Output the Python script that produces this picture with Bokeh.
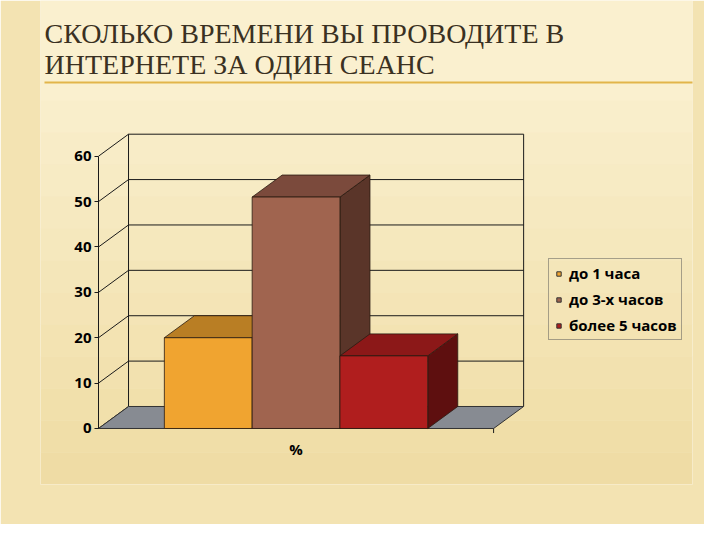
from bokeh.plotting import figure
from bokeh.models import (Range1d, FixedTicker, LinearAxis, Label,
                          Legend, LegendItem, BoxAnnotation)
from bokeh.embed import file_html
from bokeh.resources import INLINE

# ---- data ----
title_lines = ["СКОЛЬКО ВРЕМЕНИ ВЫ ПРОВОДИТЕ В", "ИНТЕРНЕТЕ ЗА ОДИН СЕАНС"]
categories = ["до 1 часа", "до 3-х часов", "более 5 часов"]
values = [20, 51, 16]
y_ticks = [0, 10, 20, 30, 40, 50, 60]
x_label = "%"

# ---- style ----
BG_TOP = "#FAF0CF"
BG_TINT = "#E8CF88"
BORDER = "#F3E3B2"
front_colors = ["#F0A430", "#A0644F", "#B01E1E"]
top_colors = ["#B97E24", "#7B4A3C", "#8C1818"]
side_colors = ["#7A5016", "#5A3529", "#5E0F0F"]
FLOOR = "#878B92"
EDGE = "#2a1a10"

x_centers = [1.25, 2.25, 3.25]   # bar slots along the floor
bar_w = 1.0
floor_len = 4.5
DX, DY = 0.342, 4.85             # 3-D depth offset (x units, y units)
y_top = 60

W, H = 704, 524
ML, MB = 40, 40                  # side panels
FH = H - MB                      # frame height in px

p = figure(width=W, height=H, output_backend="svg", toolbar_location=None,
           x_range=Range1d(-0.6606, 6.7654), y_range=Range1d(-12.34, 94.31),
           min_border_left=ML, min_border_right=12, min_border_top=0,
           min_border_bottom=MB, x_axis_type=None, y_axis_type=None)
p.background_fill_color = BG_TOP
p.border_fill_color = BORDER
p.outline_line_color = None
p.grid.visible = False

# soft vertical gradient of the slide background
n_bands = 12
for k in range(n_bands):
    top_px = FH - 100 - k * 32
    p.add_layout(BoxAnnotation(bottom=max(top_px - 32, 0), top=top_px,
                               bottom_units="screen", top_units="screen",
                               fill_color=BG_TINT, fill_alpha=0.05 * (k + 1),
                               line_color=None, level="underlay"))

# back wall lines and grid
gx0, gx1, gy0, gy1 = [], [], [], []
for v in y_ticks[1:]:
    gx0.append(DX); gx1.append(floor_len + DX); gy0.append(v + DY); gy1.append(v + DY)
p.segment(gx0, gy0, gx1, gy1, line_color="#1a1a1a", line_width=1)
p.segment([DX, floor_len + DX], [DY, DY], [DX, floor_len + DX], [y_top + DY, y_top + DY],
          line_color="#1a1a1a", line_width=1)
# side wall diagonals
p.segment([0] * len(y_ticks), y_ticks, [DX] * len(y_ticks), [v + DY for v in y_ticks],
          line_color="#1a1a1a", line_width=1)

# floor
p.patch([0, floor_len, floor_len + DX, DX], [0, 0, DY, DY],
        fill_color=FLOOR, line_color="#333333", line_width=1)
p.segment([floor_len], [0], [floor_len], [-1], line_color="#1a1a1a")

# bars: side, top, then front (left to right)
for i, (xc, v) in enumerate(zip(x_centers, values)):
    l, r = xc - bar_w / 2, xc + bar_w / 2
    p.patch([r, r + DX, r + DX, r], [0, DY, v + DY, v],
            fill_color=side_colors[i], line_color=EDGE, line_width=0.8)
    p.patch([l, r, r + DX, l + DX], [v, v, v + DY, v + DY],
            fill_color=top_colors[i], line_color=EDGE, line_width=0.8)
    p.vbar(x=[xc], top=[v], bottom=0, width=bar_w,
           fill_color=front_colors[i], line_color=EDGE, line_width=0.8)

# legend swatches (renderers kept off-range; only their legend glyphs show)
items = []
for i, c in enumerate(categories):
    r = p.scatter(x=[x_centers[i]], y=[-500], marker="square", size=10,
                  fill_color=front_colors[i], line_color="#333333")
    items.append(LegendItem(label=c, renderers=[r]))
legend = Legend(items=items, location=(508, FH - 340), orientation="vertical",
                label_text_font="Open Sans", label_text_font_style="bold",
                label_text_font_size="15px", label_text_color="#000000",
                glyph_width=11, glyph_height=11, label_standoff=5,
                spacing=6, padding=4, margin=0,
                border_line_color="#555555", border_line_width=1,
                background_fill_alpha=0)
p.add_layout(legend, "center")

# axes (fixed at the front-left corner of the 3-D box)
yax = LinearAxis(ticker=FixedTicker(ticks=y_ticks), bounds=(0, 60), fixed_location=0)
yax.major_tick_out = 4
yax.major_tick_in = 0
yax.minor_tick_line_color = None
yax.axis_line_color = "#1a1a1a"
yax.major_tick_line_color = "#1a1a1a"
yax.major_label_text_font = "Open Sans"
yax.major_label_text_font_style = "bold"
yax.major_label_text_font_size = "15px"
yax.major_label_text_color = "#000000"
yax.major_label_standoff = 3
p.add_layout(yax, "left")

xax = LinearAxis(ticker=FixedTicker(ticks=[x_centers[1]]),
                 major_label_overrides={x_centers[1]: x_label}, fixed_location=0)
xax.axis_line_color = None
xax.major_tick_line_color = None
xax.minor_tick_line_color = None
xax.major_label_text_font = "Open Sans"
xax.major_label_text_font_style = "bold"
xax.major_label_text_font_size = "15px"
xax.major_label_text_color = "#000000"
xax.major_label_standoff = 5
p.add_layout(xax, "below")

# slide title
for txt, top_px in zip(title_lines, [17, 48]):
    p.add_layout(Label(x=44 - ML, y=FH - top_px, x_units="screen", y_units="screen",
                       text=txt, text_font="Liberation Serif", text_font_size="28px",
                       text_color="#3a3122", text_baseline="top"))
p.add_layout(BoxAnnotation(left=44 - ML, right=W, bottom=FH - 83, top=FH - 81,
                           left_units="screen", right_units="screen",
                           bottom_units="screen", top_units="screen",
                           fill_color="#E2B54A", fill_alpha=1, line_color=None))

open("out.html", "w").write(file_html(p, INLINE))
